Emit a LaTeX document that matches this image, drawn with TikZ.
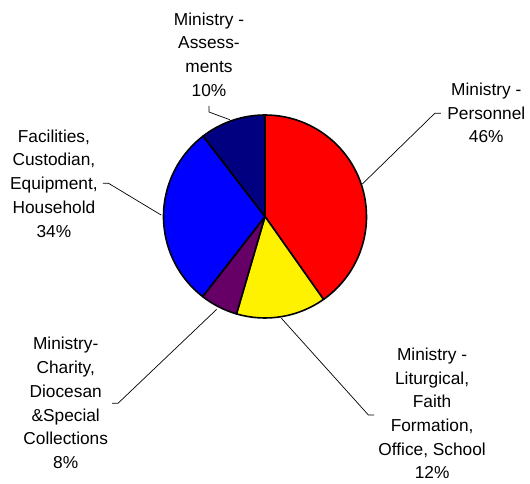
\documentclass[tikz,border=0pt]{standalone}
\usepackage{fontspec}
\setmainfont{Liberation Sans}
\definecolor{navyslice}{RGB}{0,0,128}
\definecolor{plumslice}{RGB}{102,0,102}
\begin{document}
\begin{tikzpicture}[x=1pt,y=1pt,
    lbl/.style={align=center,inner sep=0pt,font=\fontsize{17.3}{23.7}\selectfont},
    slice/.style={draw=black,line width=1.6pt,line join=round},
    lead/.style={draw=black,line width=0.7pt}]
    \useasboundingbox (0,0) rectangle (530,483);
    \coordinate (c) at (265,266.5);

    % pie slices, clockwise from the top
    \filldraw[slice,fill=red] (c) -- ++(90:101.5pt) arc[start angle=90,end angle=-54.8,radius=101.5pt] -- cycle;
    \filldraw[slice,fill=yellow] (c) -- ++(-54.8:101.5pt) arc[start angle=-54.8,end angle=-106.3,radius=101.5pt] -- cycle;
    \filldraw[slice,fill=plumslice] (c) -- ++(-106.3:101.5pt) arc[start angle=-106.3,end angle=-127.9,radius=101.5pt] -- cycle;
    \filldraw[slice,fill=blue] (c) -- ++(-127.9:101.5pt) arc[start angle=-127.9,end angle=-232.4,radius=101.5pt] -- cycle;
    \filldraw[slice,fill=navyslice] (c) -- ++(127.6:101.5pt) arc[start angle=127.6,end angle=90,radius=101.5pt] -- cycle;

    \node[lbl] (assess) at (209,428.5) {Ministry -\\Assess-\\ments\\10\%};
    \node[lbl] (personnel) at (486.3,370) {Ministry -\\Personnel\\46\%};
    \node[lbl] (facilities) at (53.9,299.5) {Facilities,\\Custodian,\\Equipment,\\Household\\34\%};
    \node[lbl] (charity) at (65.7,80) {Ministry-\\Charity,\\Diocesan\\\&Special\\Collections\\8\%};
    \node[lbl] (liturgical) at (432.1,69.5) {Ministry -\\Liturgical,\\Faith\\Formation,\\Office, School\\12\%};

    \coordinate (a1) at (209,377);
    \coordinate (a2) at (209,371);
    \coordinate (a3) at (229.8,363.3);
    \coordinate (p1) at (362.3,299);
    \coordinate (p2) at (434.8,369.7);
    \coordinate (p3) at (440.8,369.7);
    \coordinate (f1) at (102.8,299.7);
    \coordinate (f2) at (108.5,299.7);
    \coordinate (f3) at (161.1,268);
    \coordinate (h1) at (112.2,79.7);
    \coordinate (h2) at (118,79.7);
    \coordinate (h3) at (216.7,173.7);
    \coordinate (l1) at (281.4,164.7);
    \coordinate (l2) at (368.4,68);
    \coordinate (l3) at (374.1,68);

    \draw[lead] (a1) -- (a2) -- (a3);
    \draw[lead] (p1) -- (p2) -- (p3);
    \draw[lead] (f1) -- (f2) -- (f3);
    \draw[lead] (h1) -- (h2) -- (h3);
    \draw[lead] (l1) -- (l2) -- (l3);

 \end{tikzpicture}
\end{document}
